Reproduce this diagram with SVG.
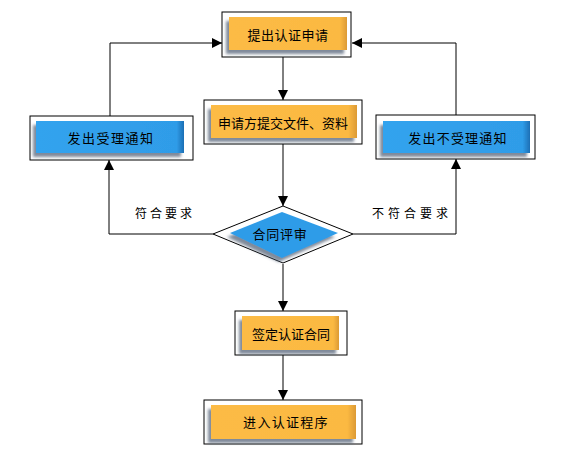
<svg xmlns="http://www.w3.org/2000/svg" width="567" height="461" viewBox="0 0 567 461">
<defs>
<style>
.frame{fill:#fff;stroke:#000;stroke-width:1}
.t{font-family:"Noto Sans CJK SC","Liberation Sans",sans-serif;font-size:13px;fill:#000;text-anchor:middle;dominant-baseline:central}
.lbl{font-family:"Noto Sans CJK SC","Liberation Sans",sans-serif;font-size:12px;fill:#000;text-anchor:middle;dominant-baseline:central;letter-spacing:3px}
.ln{fill:none;stroke:#000;stroke-width:1}
</style>
<linearGradient id="og" x1="0" y1="0" x2="1" y2="0">
<stop offset="0" stop-color="#FCBB45"/>
<stop offset="0.94" stop-color="#FBB942"/>
<stop offset="1" stop-color="#DC9A35"/>
</linearGradient>
<linearGradient id="bg" x1="0" y1="0" x2="1" y2="0">
<stop offset="0" stop-color="#33A3EE"/>
<stop offset="0.95" stop-color="#2F9CE8"/>
<stop offset="1" stop-color="#1C6FB5"/>
</linearGradient>
<filter id="sh" x="-20%" y="-30%" width="140%" height="170%">
<feDropShadow dx="-3" dy="4" stdDeviation="1.8" flood-color="#4a5a70" flood-opacity="0.7"/>
</filter>
<marker id="ah" viewBox="0 0 10 10" refX="10" refY="5" markerWidth="10" markerHeight="10" markerUnits="userSpaceOnUse" orient="auto">
<path d="M0,0 L10,5 L0,10 z" fill="#000"/>
</marker>
</defs>

<g id="connectors">
<path class="ln" d="M283,57 V100" marker-end="url(#ah)"/>
<path class="ln" d="M283,144 V206" marker-end="url(#ah)"/>
<path class="ln" d="M283,264 V311" marker-end="url(#ah)"/>
<path class="ln" d="M283,355 V400" marker-end="url(#ah)"/>
<path class="ln" d="M213,234 H109 V160" marker-end="url(#ah)"/>
<path class="ln" d="M110,116 V43 H222" marker-end="url(#ah)"/>
<path class="ln" d="M353,234 H456 V159" marker-end="url(#ah)"/>
<path class="ln" d="M456,115 V43 H352" marker-end="url(#ah)"/>
<text class="lbl" x="165" y="212">符合要求</text>
<text class="lbl" x="412" y="212" style="letter-spacing:4px">不符合要求</text>
</g>

<g id="n1">
<rect class="frame" x="222" y="12" width="129" height="45"/>
<rect x="229" y="17" width="118" height="33" fill="url(#og)" filter="url(#sh)"/>
<text class="t" x="288" y="34" style="letter-spacing:0.5px">提出认证申请</text>
</g>

<g id="n2">
<rect class="frame" x="204" y="100" width="158" height="44"/>
<rect x="211" y="105" width="146" height="33" fill="url(#og)" filter="url(#sh)"/>
<text class="t" x="283" y="122">申请方提交文件、资料</text>
</g>

<g id="n3">
<rect class="frame" x="30" y="116" width="163" height="44"/>
<rect x="36" y="121" width="148" height="32" fill="url(#bg)" filter="url(#sh)"/>
<text class="t" x="111" y="137" style="letter-spacing:1.5px">发出受理通知</text>
</g>

<g id="n4">
<rect class="frame" x="376" y="115" width="159" height="44"/>
<rect x="383" y="121" width="147" height="32" fill="url(#bg)" filter="url(#sh)"/>
<text class="t" x="458" y="137" style="letter-spacing:1.2px">发出不受理通知</text>
</g>

<g id="n5">
<polygon points="213,234 283,206 353,234 283,263" fill="#fff" stroke="#000" stroke-width="1"/>
<polygon points="230,233 282,212 338,233 282,258" fill="#2F9CE8" filter="url(#sh)"/>
<text class="t" x="280" y="233" style="letter-spacing:0.7px">合同评审</text>
</g>

<g id="n6">
<rect class="frame" x="235" y="311" width="112" height="44"/>
<rect x="242" y="316" width="97" height="34" fill="url(#og)" filter="url(#sh)"/>
<text class="t" x="291" y="333">签定认证合同</text>
</g>

<g id="n7">
<rect class="frame" x="204" y="400" width="158" height="44"/>
<rect x="211" y="405" width="145" height="34" fill="url(#og)" filter="url(#sh)"/>
<text class="t" x="286" y="421" style="letter-spacing:1.3px">进入认证程序</text>
</g>
</svg>
